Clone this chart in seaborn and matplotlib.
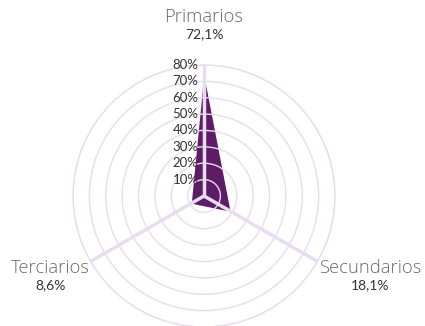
import numpy as np
import pandas as pd
import seaborn as sns
import matplotlib
matplotlib.use("Agg")
import matplotlib.pyplot as plt
from matplotlib.transforms import offset_copy

# datos
categorias = ["Primarios", "Secundarios", "Terciarios"]
valores = [72.1, 18.1, 8.6]
etiquetas_valor = ["72,1%", "18,1%", "8,6%"]
anillos = [10, 20, 30, 40, 50, 60, 70, 80]
anillos_txt = ["10%", "20%", "30%", "40%", "50%", "60%", "70%", "80%"]

morado = "#5E1C66"
lila = "#E8DCEF"

sns.set_theme(style="white")
plt.rcParams["font.family"] = ["Lato", "DejaVu Sans"]

fig = plt.figure(figsize=(4.25, 3.26), dpi=100)
ax = fig.add_axes([0.1718, -0.003, 0.6165, 0.8037], polar=True)
ax.set_theta_zero_location("N")
ax.set_theta_direction(-1)

ang = np.linspace(0, 2 * np.pi, len(categorias), endpoint=False)
df = pd.DataFrame({"ang": np.append(ang, ang[0]), "val": valores + valores[:1]})

ax.fill(df["ang"], df["val"], color=morado, zorder=1, lw=0)
sns.lineplot(data=df, x="ang", y="val", sort=False, color=morado, lw=1, ax=ax, zorder=1)

ax.set_ylim(0, 80)
ax.set_yticks(anillos)
ax.set_yticklabels([])
ax.set_xticks(ang)
ax.set_xticklabels([])
ax.set_xlabel("")
ax.set_ylabel("")
ax.set_axisbelow(False)
ax.yaxis.grid(True, color=lila, lw=1)
ax.xaxis.grid(True, color=lila, lw=2.5)
ax.spines["polar"].set_color(lila)
ax.spines["polar"].set_linewidth(1)
ax.set_facecolor("none")

# etiquetas del eje radial
tr = offset_copy(ax.transData, fig=fig, x=-4, y=0, units="points")
for r, t in zip(anillos, anillos_txt):
    ax.text(0, r, t, transform=tr, ha="right", va="center", fontsize=9.5, color="#333333")

# nombres de categorias y valores
pos = [(0.48, 0.948, 0.895), (0.871, 0.178, 0.125), (0.118, 0.178, 0.125)]
for (x, yn, yv), nom, v in zip(pos, categorias, etiquetas_valor):
    fig.text(x, yn, nom, ha="center", va="center", fontsize=13.2, color="#6A6A6A",
             fontweight="light", family=["Open Sans", "DejaVu Sans"])
    fig.text(x, yv, v, ha="center", va="center", fontsize=10, color="#333333")

fig.savefig("out.png", dpi=100)
